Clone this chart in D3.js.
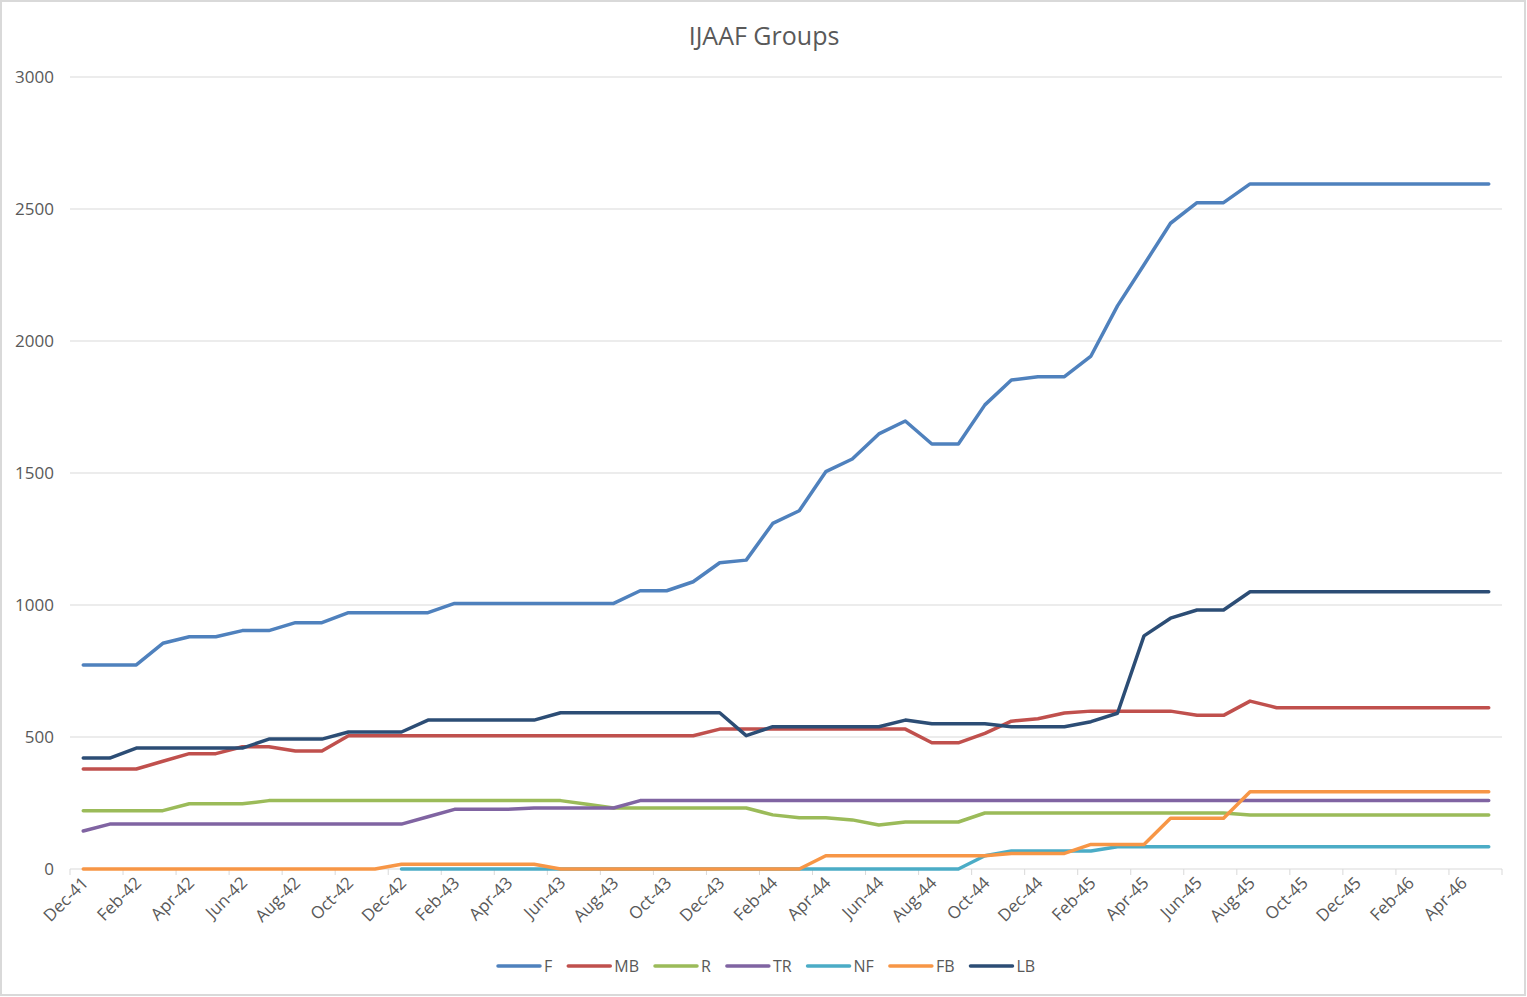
<!DOCTYPE html>
<html>
<head>
<meta charset="utf-8">
<script src="https://cdn.jsdelivr.net/npm/d3@7"></script>
<style>
  body { margin: 0; background: #fff; }
  text { font-family: "Open Sans", "Noto Sans", sans-serif; fill: #595959; }
</style>
</head>
<body>
<svg width="1527" height="997"></svg>
<script>
// categories: one per month, Dec-41 .. May-46
const months = [
  'Dec-41', 'Jan-42', 'Feb-42', 'Mar-42', 'Apr-42', 'May-42', 'Jun-42', 'Jul-42', 'Aug-42', 'Sep-42', 'Oct-42', 'Nov-42',
  'Dec-42', 'Jan-43', 'Feb-43', 'Mar-43', 'Apr-43', 'May-43', 'Jun-43', 'Jul-43', 'Aug-43', 'Sep-43', 'Oct-43', 'Nov-43',
  'Dec-43', 'Jan-44', 'Feb-44', 'Mar-44', 'Apr-44', 'May-44', 'Jun-44', 'Jul-44', 'Aug-44', 'Sep-44', 'Oct-44', 'Nov-44',
  'Dec-44', 'Jan-45', 'Feb-45', 'Mar-45', 'Apr-45', 'May-45', 'Jun-45', 'Jul-45', 'Aug-45', 'Sep-45', 'Oct-45', 'Nov-45',
  'Dec-45', 'Jan-46', 'Feb-46', 'Mar-46', 'Apr-46', 'May-46'
];

const F = [773, 773, 773, 855, 880, 880, 903, 903, 933, 933, 971, 971,
  971, 971, 1006, 1006, 1006, 1006, 1006, 1006, 1006, 1054, 1054, 1088,
  1160, 1170, 1309, 1357, 1505, 1553, 1648, 1697, 1610, 1610, 1758, 1852,
  1865, 1865, 1943, 2133, 2289, 2446, 2524, 2524, 2595, 2595, 2595, 2595,
  2595, 2595, 2595, 2595, 2595, 2595];

const MB = [379, 379, 379, 408, 437, 437, 463, 463, 447, 447, 505, 505,
  505, 505, 505, 505, 505, 505, 505, 505, 505, 505, 505, 505,
  530, 530, 530, 530, 530, 530, 530, 530, 478, 478, 514, 560,
  569, 591, 598, 598, 598, 598, 582, 582, 636, 611, 611, 611,
  611, 611, 611, 611, 611, 611];

const R = [221, 221, 221, 221, 247, 247, 247, 259, 259, 259, 259, 259,
  259, 259, 259, 259, 259, 259, 259, 245, 231, 231, 231, 231,
  231, 231, 205, 194, 194, 186, 167, 178, 178, 178, 212, 212,
  212, 212, 212, 212, 212, 212, 212, 212, 205, 205, 205, 205,
  205, 205, 205, 205, 205, 205];

const TR = [144, 170, 170, 170, 170, 170, 170, 170, 170, 170, 170, 170,
  170, 198, 226, 226, 226, 231, 231, 231, 231, 259, 259, 259,
  259, 259, 259, 259, 259, 259, 259, 259, 259, 259, 259, 259,
  259, 259, 259, 259, 259, 259, 259, 259, 259, 259, 259, 259,
  259, 259, 259, 259, 259, 259];

const NF = [null, null, null, null, null, null, null, null, null, null, null, null,
  0, 0, 0, 0, 0, 0, 0, 0, 0, 0, 0, 0,
  0, 0, 0, 0, 0, 0, 0, 0, 0, 0, 50, 68,
  68, 68, 68, 84, 84, 84, 84, 84, 84, 84, 84, 84,
  84, 84, 84, 84, 84, 84];

const FB = [0, 0, 0, 0, 0, 0, 0, 0, 0, 0, 0, 0,
  18, 18, 18, 18, 18, 18, 0, 0, 0, 0, 0, 0,
  0, 0, 0, 0, 50, 50, 50, 50, 50, 50, 50, 59,
  59, 59, 93, 93, 93, 192, 192, 192, 293, 293, 293, 293,
  293, 293, 293, 293, 293, 293];

const LB = [420, 420, 458, 458, 458, 458, 458, 492, 492, 492, 519, 519,
  519, 564, 564, 564, 564, 564, 592, 592, 592, 592, 592, 592,
  592, 505, 539, 539, 539, 539, 539, 564, 550, 550, 550, 539,
  539, 539, 558, 590, 883, 950, 981, 981, 1050, 1050, 1050, 1050,
  1050, 1050, 1050, 1050, 1050, 1050];

const seriesNames = ['F', 'MB', 'R', 'TR', 'NF', 'FB', 'LB'];
const seriesValues = [F, MB, R, TR, NF, FB, LB];
const colors = ['#4f81bd', '#c0504d', '#9bbb59', '#8064a2', '#4bacc6', '#f79646', '#2c4d75'];
const yTicks = [0, 500, 1000, 1500, 2000, 2500, 3000];

const svg = d3.select('svg');

// chart border
svg.append('rect')
  .attr('x', 1).attr('y', 1)
  .attr('width', 1524).attr('height', 994)
  .attr('fill', '#fff')
  .attr('stroke', '#d9d9d9')
  .attr('stroke-width', 2);

const plotLeft = 70, plotRight = 1502, plotTop = 77, plotBottom = 869;

const x = d3.scaleBand().domain(months).range([plotLeft, plotRight]).padding(0);
const y = d3.scaleLinear().domain([0, 3000]).range([plotBottom, plotTop]);
const cx = (m) => x(m) + x.bandwidth() / 2;

// title
svg.append('text')
  .attr('x', 764).attr('y', 45)
  .attr('text-anchor', 'middle')
  .style('font-size', '25px')
  .text('IJAAF Groups');

// gridlines + y labels
svg.append('g')
  .selectAll('line')
  .data(yTicks.filter((d) => d > 0))
  .join('line')
  .attr('x1', plotLeft).attr('x2', plotRight)
  .attr('y1', (d) => y(d)).attr('y2', (d) => y(d))
  .attr('stroke', '#d9d9d9')
  .attr('stroke-width', 1);

svg.append('g')
  .selectAll('text')
  .data(yTicks)
  .join('text')
  .attr('x', 54)
  .attr('y', (d) => y(d))
  .attr('dy', '0.35em')
  .attr('text-anchor', 'end')
  .style('font-size', '17px')
  .text((d) => d);

// x axis line and ticks (every other category boundary)
svg.append('line')
  .attr('x1', plotLeft).attr('x2', plotRight)
  .attr('y1', plotBottom).attr('y2', plotBottom)
  .attr('stroke', '#d9d9d9');

const tickMonths = months.filter((d, i) => i % 2 === 0);

svg.append('g')
  .selectAll('line')
  .data(tickMonths.concat(['end']))
  .join('line')
  .attr('x1', (d) => (d === 'end' ? plotRight : x(d)))
  .attr('x2', (d) => (d === 'end' ? plotRight : x(d)))
  .attr('y1', plotBottom).attr('y2', plotBottom + 6)
  .attr('stroke', '#d9d9d9');

svg.append('g')
  .selectAll('text')
  .data(tickMonths)
  .join('text')
  .attr('text-anchor', 'end')
  .attr('transform', (d) => `translate(${cx(d) + 6}, ${plotBottom + 15}) rotate(-45)`)
  .style('font-size', '17px')
  .text((d) => d);

// lines
const line = d3.line()
  .defined((d) => d.v !== null)
  .x((d) => cx(d.m))
  .y((d) => y(d.v));

svg.append('g')
  .selectAll('path')
  .data(seriesValues.map((vals, k) => ({
    name: seriesNames[k],
    pts: vals.map((v, i) => ({ m: months[i], v: v })),
  })))
  .join('path')
  .attr('d', (d) => line(d.pts))
  .attr('fill', 'none')
  .attr('stroke', (d, k) => colors[k])
  .attr('stroke-width', 3.5)
  .attr('stroke-linejoin', 'round')
  .attr('stroke-linecap', 'round');

// legend
const legend = svg.append('g');
let lx = 497;
seriesNames.forEach((name, k) => {
  legend.append('line')
    .attr('x1', lx + 1).attr('x2', lx + 43)
    .attr('y1', 966).attr('y2', 966)
    .attr('stroke', colors[k])
    .attr('stroke-width', 3.5)
    .attr('stroke-linecap', 'round');
  const t = legend.append('text')
    .attr('x', lx + 47).attr('y', 966)
    .attr('dy', '0.35em')
    .style('font-size', '16px')
    .text(name);
  lx += 47 + t.node().getComputedTextLength() + 15;
});
</script>
</body>
</html>
